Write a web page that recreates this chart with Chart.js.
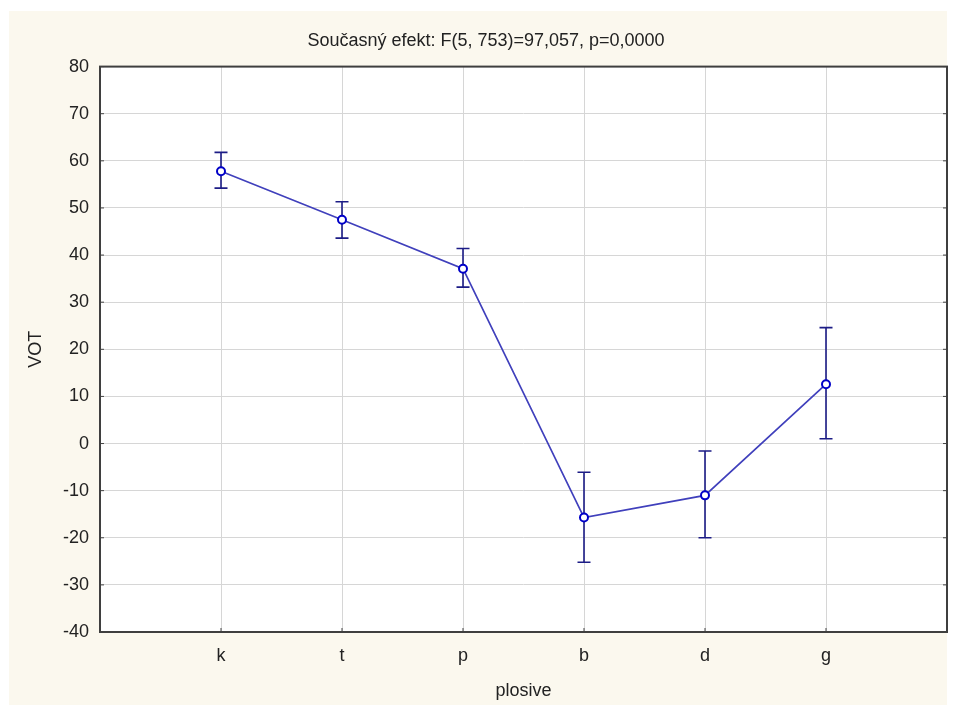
<!DOCTYPE html>
<html>
<head>
<meta charset="utf-8">
<script src="https://cdn.jsdelivr.net/npm/chart.js@4/dist/chart.umd.min.js"></script>
<style>
  html, body { margin: 0; padding: 0; background: #ffffff; }
  #frame { position: absolute; left: 9px; top: 11px; width: 938px; height: 694px; background: #fbf8ee; }
  canvas { display: block; }
</style>
</head>
<body>
<div id="frame"><canvas id="chart" width="944" height="694"></canvas></div>
<script>
// data
const categories = ['k', 't', 'p', 'b', 'd', 'g'];
const means = [57.8, 47.5, 37.1, -15.7, -11.0, 12.6];
const upper = [61.8, 51.3, 41.4, -6.1, -1.6, 24.6];
const lower = [54.2, 43.6, 33.2, -25.2, -20.0, 1.0];
const titleText = 'Současný efekt: F(5, 753)=97,057, p=0,0000';

const points = means.map(function(v, i) { return { x: i + 1, y: v }; });

// white plot area, error bars, frame and inner ticks
const plotDecor = {
    id: 'plotDecor',
    beforeDraw: function(chart) {
        const a = chart.chartArea;
        const ctx = chart.ctx;
        ctx.save();
        ctx.fillStyle = '#ffffff';
        ctx.fillRect(a.left, a.top, a.right - a.left, a.bottom - a.top);
        ctx.restore();
    },
    beforeDatasetsDraw: function(chart) {
        const ctx = chart.ctx;
        const xs = chart.scales.x, ys = chart.scales.y;
        ctx.save();
        ctx.strokeStyle = '#1c1c86';
        ctx.lineWidth = 1.6;
        for (let i = 0; i < means.length; i++) {
            const x = xs.getPixelForValue(i + 1);
            const yt = ys.getPixelForValue(upper[i]);
            const yb = ys.getPixelForValue(lower[i]);
            ctx.beginPath();
            ctx.moveTo(x, yt); ctx.lineTo(x, yb);
            ctx.moveTo(x - 6.5, yt); ctx.lineTo(x + 6.5, yt);
            ctx.moveTo(x - 6.5, yb); ctx.lineTo(x + 6.5, yb);
            ctx.stroke();
        }
        ctx.restore();
    },
    afterDraw: function(chart) {
        const a = chart.chartArea;
        const ctx = chart.ctx;
        const xs = chart.scales.x, ys = chart.scales.y;
        ctx.save();
        ctx.strokeStyle = '#444444';
        ctx.lineWidth = 1;
        ctx.beginPath();
        ys.ticks.forEach(function(t) {
            const y = ys.getPixelForValue(t.value);
            ctx.moveTo(a.left, y); ctx.lineTo(a.left + 4, y);
            ctx.moveTo(a.right, y); ctx.lineTo(a.right - 4, y);
        });
        for (let i = 1; i <= categories.length; i++) {
            const x = xs.getPixelForValue(i);
            ctx.moveTo(x, a.bottom); ctx.lineTo(x, a.bottom - 4);
        }
        ctx.stroke();
        ctx.lineWidth = 2;
        ctx.strokeStyle = '#3f3f3f';
        ctx.strokeRect(a.left, a.top, a.right - a.left, a.bottom - a.top);
        ctx.restore();
    }
};

const fontFamily = '"Liberation Sans", Arial, sans-serif';

new Chart(document.getElementById('chart'), {
    type: 'line',
    data: {
        datasets: [{
            data: points,
            borderColor: '#4040bc',
            borderWidth: 1.7,
            pointRadius: 4,
            pointBorderWidth: 2,
            pointBorderColor: '#0000c8',
            pointBackgroundColor: '#ffffff',
            tension: 0,
            fill: false
        }]
    },
    options: {
        responsive: false,
        devicePixelRatio: 1,
        animation: false,
        layout: { padding: { left: 11, right: 1, top: 0, bottom: 0 } },
        plugins: {
            legend: { display: false },
            tooltip: { enabled: false },
            title: {
                display: true,
                text: titleText,
                color: '#222222',
                font: { family: fontFamily, size: 18, weight: 'normal' },
                padding: { top: 19, bottom: 15 }
            }
        },
        scales: {
            x: {
                type: 'linear',
                min: 0,
                max: 7,
                afterFit: function(scale) {
                    scale.height = 73;
                    scale.paddingLeft = 0;
                    scale.paddingRight = 0;
                },
                afterBuildTicks: function(scale) {
                    scale.ticks = categories.map(function(c, i) { return { value: i + 1 }; });
                },
                ticks: {
                    autoSkip: false,
                    maxRotation: 0,
                    padding: 13,
                    color: '#222222',
                    font: { family: fontFamily, size: 18 },
                    callback: function(v) { return categories[v - 1] || ''; }
                },
                grid: { color: '#d6d6d6', lineWidth: 1, drawTicks: false },
                border: { display: false },
                title: {
                    display: true,
                    text: 'plosive',
                    color: '#222222',
                    font: { family: fontFamily, size: 18 },
                    padding: { top: 0, bottom: 3 }
                }
            },
            y: {
                min: -40,
                max: 80,
                afterFit: function(scale) { scale.width = 80; },
                ticks: {
                    stepSize: 10,
                    padding: 11,
                    color: '#222222',
                    font: { family: fontFamily, size: 18 }
                },
                grid: { color: '#d6d6d6', lineWidth: 1, drawTicks: false },
                border: { display: false },
                title: {
                    display: true,
                    text: 'VOT',
                    color: '#222222',
                    font: { family: fontFamily, size: 18 },
                    padding: { top: 5, bottom: 0 }
                }
            }
        }
    },
    plugins: [plotDecor]
});
</script>
</body>
</html>
